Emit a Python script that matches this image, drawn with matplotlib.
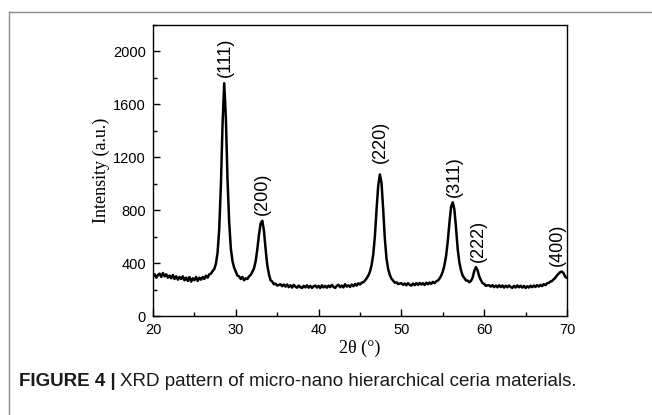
import numpy as np
import matplotlib
matplotlib.use("Agg")
import matplotlib.pyplot as plt
from matplotlib.ticker import MultipleLocator

# scan grid (deg 2theta, 0.2 step) and intensities
two_theta = np.round(np.arange(20.0, 70.01, 0.2), 1)
intensity = [
    300, 315, 290, 310, 320, 295, 325, 300, 315, 290,   # 20.0 - 21.8
    305, 285, 310, 280, 300, 275, 295, 280, 300, 270,   # 22.0 - 23.8
    290, 265, 295, 260, 285, 270, 295, 265, 290, 275,   # 24.0 - 25.8
    295, 280, 305, 290, 315, 320, 340, 355, 395, 480,   # 26.0 - 27.8
    660, 990, 1450, 1760, 1500, 1030, 710, 510, 415, 365,   # 28.0 - 29.8
    335, 305, 300, 280, 295, 270, 285, 280, 300, 310,   # 30.0 - 31.8
    335, 360, 415, 505, 615, 700, 720, 645, 505, 385,   # 32.0 - 33.8
    315, 270, 260, 240, 245, 230, 235, 240, 225, 238,   # 34.0 - 35.8
    222, 238, 218, 232, 215, 235, 222, 214, 230, 218,   # 36.0 - 37.8
    212, 228, 216, 232, 214, 228, 212, 225, 230, 215,   # 38.0 - 39.8
    228, 212, 232, 216, 228, 214, 230, 218, 235, 220,   # 40.0 - 41.8
    212, 228, 236, 218, 230, 216, 240, 222, 232, 220,   # 42.0 - 43.8
    238, 225, 242, 230, 248, 238, 252, 255, 268, 285,   # 44.0 - 45.8
    305, 335, 385, 465, 605, 805, 985, 1070, 1005, 805,   # 46.0 - 47.8
    585, 435, 355, 310, 282, 268, 252, 255, 242, 245,   # 48.0 - 49.8
    248, 235, 246, 232, 248, 235, 230, 245, 233, 248,   # 50.0 - 51.8
    235, 250, 238, 248, 235, 252, 240, 253, 243, 258,   # 52.0 - 53.8
    248, 262, 268, 282, 305, 335, 385, 455, 565, 705,   # 54.0 - 55.8
    825, 860, 805, 665, 505, 405, 345, 305, 288, 268,   # 56.0 - 57.8
    268, 255, 265, 290, 340, 370, 345, 300, 272, 248,   # 58.0 - 59.8
    242, 228, 232, 232, 222, 234, 218, 230, 217, 233,   # 60.0 - 61.8
    219, 231, 215, 229, 217, 231, 219, 213, 228, 215,   # 62.0 - 63.8
    231, 217, 229, 215, 227, 212, 225, 215, 229, 218,   # 64.0 - 65.8
    231, 220, 233, 223, 235, 226, 241, 233, 248, 250,   # 66.0 - 67.8
    260, 265, 278, 290, 308, 320, 333, 335, 322, 295,   # 68.0 - 69.8
    288,                                                # 70.0
]

# reflection labels and where they sit (2theta, intensity at label foot)
peak_labels = ["(111)", "(200)", "(220)", "(311)", "(222)", "(400)"]
label_x = [28.8, 33.2, 47.5, 56.35, 59.25, 68.8]
label_y = [1810, 765, 1160, 900, 410, 380]

x_ticks = [20, 30, 40, 50, 60, 70]
y_ticks = [0, 400, 800, 1200, 1600, 2000]

sans = "Liberation Sans"
serif = "Liberation Serif"

fig = plt.figure(figsize=(6.52, 4.15), dpi=100)
ax = fig.add_axes([153 / 652, 1 - 316 / 415, (567 - 153) / 652, (316 - 25) / 415])

ax.plot(two_theta, intensity, color="black", lw=1.8)

for lab, lx, ly in zip(peak_labels, label_x, label_y):
    ax.text(lx, ly, lab, rotation=90, ha="center", va="bottom",
            fontsize=13, family=sans)

ax.set_xlim(20, 70)
ax.set_ylim(0, 2200)
ax.set_xticks(x_ticks)
ax.set_yticks(y_ticks)
ax.xaxis.set_minor_locator(MultipleLocator(5))
ax.yaxis.set_minor_locator(MultipleLocator(200))
ax.tick_params(which="both", direction="in", top=False, right=False,
               labelsize=10.5, width=1.0)
ax.tick_params(which="major", length=5, pad=5)
ax.tick_params(which="minor", length=3)
for lbl in ax.get_xticklabels() + ax.get_yticklabels():
    lbl.set_family(sans)
for sp in ax.spines.values():
    sp.set_linewidth(1.0)

ax.set_xlabel("2θ (°)", family=serif, fontsize=13, labelpad=2)
ax.set_ylabel("Intensity (a.u.)", family=serif, fontsize=13, labelpad=2)

# page frame (top and left edge of the figure box)
fig.add_artist(plt.Line2D([9 / 652, 1.0], [1 - 12 / 415, 1 - 12 / 415],
                          color="#8a8a8a", lw=1.0))
fig.add_artist(plt.Line2D([9 / 652, 9 / 652], [0.0, 1 - 12 / 415],
                          color="#8a8a8a", lw=1.0))

# caption: bold lead-in followed by normal text
cap_y = 1 - 381 / 415
t1 = fig.text(19 / 652, cap_y, "FIGURE 4 |", fontsize=13.5, weight="bold",
              family=sans, va="center", color="#1a1a1a")
fig.canvas.draw()
bb = t1.get_window_extent(fig.canvas.get_renderer())
x2 = (bb.x1 + 4) / fig.bbox.width
fig.text(x2, cap_y, "XRD pattern of micro-nano hierarchical ceria materials.",
         fontsize=13.5, family=sans, va="center", color="#1a1a1a")

fig.savefig("out.png", dpi=100)
